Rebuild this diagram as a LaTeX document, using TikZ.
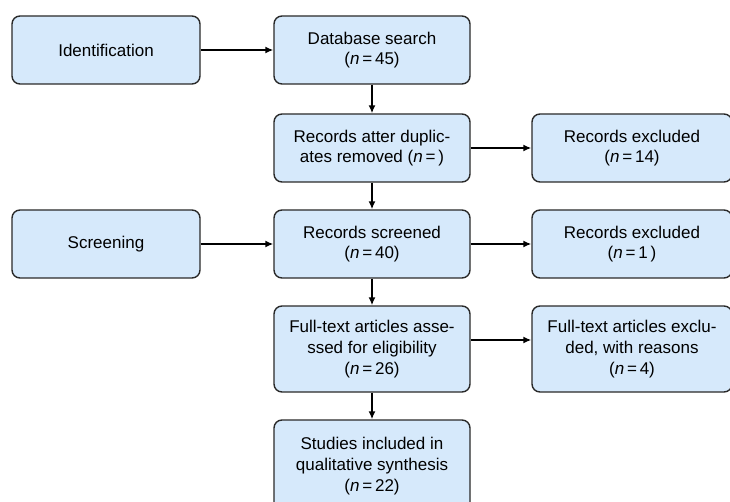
\documentclass[tikz,border=0pt]{standalone}
\usepackage{fontspec}
\setmainfont{Liberation Sans}
\usetikzlibrary{arrows.meta}
\definecolor{boxfill}{HTML}{D6E9FB}
\definecolor{boxline}{HTML}{2A2A2A}
\begin{document}
\begin{tikzpicture}[x=1pt,y=-1pt,
  flowbox/.style={draw=boxline, fill=boxfill, line width=1.4pt, rounded corners=8pt,
    align=center, inner sep=0pt, font=\fontsize{17}{20.7}\selectfont},
  conn/.style={draw=black, line width=1.5pt, -{Latex[length=8pt,width=7pt]}}]
\useasboundingbox (0,0) rectangle (730,502);
\node[flowbox, minimum width=188pt, minimum height=68pt] (ident) at (106,50) {Identification};
\node[flowbox, minimum width=196pt, minimum height=68pt] (db) at (372,50) {Database search\\(\textit{n}\,=\,45)};
\node[flowbox, minimum width=196pt, minimum height=68pt] (dup) at (372,148) {Records atter duplic-\\ates removed (\textit{n}\,=\,)};
\node[flowbox, minimum width=200pt, minimum height=68pt] (exa) at (632,148) {Records excluded\\(\textit{n}\,=\,14)};
\node[flowbox, minimum width=188pt, minimum height=68pt] (screen) at (106,244) {Screening};
\node[flowbox, minimum width=196pt, minimum height=68pt] (scr) at (372,244) {Records screened\\(\textit{n}\,=\,40)};
\node[flowbox, minimum width=200pt, minimum height=68pt] (exb) at (632,244) {Records excluded\\(\textit{n}\,=\,1\,)};
\node[flowbox, minimum width=196pt, minimum height=86pt] (full) at (372,349) {Full-text articles asse-\\ssed for eligibility\\(\textit{n}\,=\,26)};
\node[flowbox, minimum width=200pt, minimum height=86pt] (fexc) at (632,349) {Full-text articles exclu-\\ded, with reasons\\(\textit{n}\,=\,4)};
\node[flowbox, minimum width=196pt, minimum height=92pt] (stud) at (372,466) {Studies included in\\qualitative synthesis\\(\textit{n}\,=\,22)};
\draw[conn] (ident) -- (db);
\draw[conn] (db) -- (dup);
\draw[conn] (dup) -- (dup -| exa.west);
\draw[conn] (dup) -- (scr);
\draw[conn] (screen) -- (screen -| scr.west);
\draw[conn] (scr) -- (scr -| exb.west);
\draw[conn] (scr) -- (full);
\draw[conn] ([yshift=9pt]full.east) -- ([yshift=9pt]full.east -| fexc.west);
\draw[conn] (full) -- (stud);
\end{tikzpicture}
\end{document}
